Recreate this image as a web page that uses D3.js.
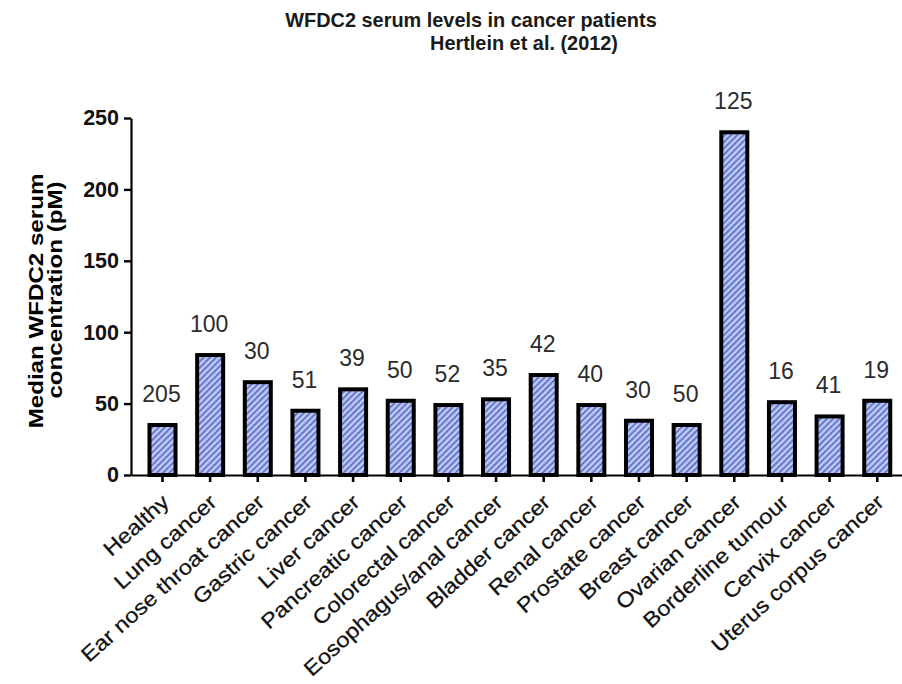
<!DOCTYPE html>
<html>
<head>
<meta charset="utf-8">
<script src="https://cdn.jsdelivr.net/npm/d3@7"></script>
<style>
  html, body { margin: 0; padding: 0; background: #fff; }
  svg { display: block; font-family: "Liberation Sans", Arial, sans-serif; }
</style>
</head>
<body>
<svg id="chart" width="902" height="684"></svg>
<script>
// Median WFDC2 (HE4) serum concentration per patient group, in pM
const categories = [
  "Healthy", "Lung cancer", "Ear nose throat cancer", "Gastric cancer",
  "Liver cancer", "Pancreatic cancer", "Colorectal cancer", "Eosophagus/anal cancer",
  "Bladder cancer", "Renal cancer", "Prostate cancer", "Breast cancer",
  "Ovarian cancer", "Borderline tumour", "Cervix cancer", "Uterus corpus cancer"
];
const medianValues = [35, 84, 65, 45, 60, 52, 49, 53, 70, 49, 38, 35, 240, 51, 41, 52];
// number of patients in each group, printed above the bars
const groupSizes = [205, 100, 30, 51, 39, 50, 52, 35, 42, 40, 30, 50, 125, 16, 41, 19];
const yTicks = [0, 50, 100, 150, 200, 250];
const titleLines = ["WFDC2 serum levels in cancer patients", "Hertlein et al. (2012)"];
const yTitleLines = ["Median WFDC2 serum", "concentration (pM)"];

const svg = d3.select("#chart");
const barStroke = 4;

const y = d3.scaleLinear().domain([0, 250]).range([475, 118]);
const x = d3.scaleBand()
  .domain(categories)
  .range([131, 131 + 47.65 * (16 - 0.454 + 2 * 0.388)])
  .paddingInner(0.454)
  .paddingOuter(0.388);

// diagonal hatch fill for the bars
const defs = svg.append("defs");
const pat = defs.append("pattern")
  .attr("id", "hatch")
  .attr("patternUnits", "userSpaceOnUse")
  .attr("width", 4.4).attr("height", 4.4)
  .attr("patternTransform", "rotate(45)");
pat.append("rect").attr("width", 4.4).attr("height", 4.4).attr("fill", "#b8c5f4");
pat.append("line")
  .attr("x1", 0.8).attr("y1", 0).attr("x2", 0.8).attr("y2", 4.4)
  .attr("stroke", "#3e4fb2").attr("stroke-width", 1.2);

// bars
svg.append("g").selectAll("rect")
  .data(categories)
  .join("rect")
  .attr("x", d => x(d))
  .attr("width", x.bandwidth())
  .attr("y", (d, i) => y(medianValues[i]))
  .attr("height", (d, i) => y(0) - y(medianValues[i]))
  .attr("fill", "url(#hatch)")
  .attr("stroke", "#000")
  .attr("stroke-width", barStroke);

// group size labels
svg.append("g").selectAll("text")
  .data(categories)
  .join("text")
  .attr("x", d => x(d) + x.bandwidth() / 2 - 1)
  .attr("y", (d, i) => y(medianValues[i]) - barStroke / 2 - 21)
  .attr("text-anchor", "middle")
  .attr("font-size", 23)
  .attr("fill", "#2b2b2b")
  .text((d, i) => groupSizes[i]);

// y axis
const yAxis = svg.append("g")
  .attr("transform", "translate(131,0)")
  .call(d3.axisLeft(y).tickValues(yTicks).tickSize(7).tickPadding(5).tickSizeOuter(0));
yAxis.select(".domain").attr("stroke", "#000").attr("stroke-width", 2.2);
yAxis.selectAll(".tick line").attr("stroke", "#000").attr("stroke-width", 2.4);
yAxis.selectAll(".tick text")
  .attr("font-size", 21.5).attr("font-weight", "bold").attr("fill", "#111")
  .attr("font-family", "Liberation Sans, Arial, sans-serif");

// x axis
const xAxis = svg.append("g")
  .attr("transform", "translate(0,475)")
  .call(d3.axisBottom(x).tickSize(7).tickSizeOuter(0));
xAxis.select(".domain").attr("stroke", "#000").attr("stroke-width", 2.2);
xAxis.selectAll(".tick line").attr("stroke", "#000").attr("stroke-width", 2.6);
xAxis.selectAll(".tick text")
  .attr("font-size", 21)
  .attr("fill", "#111")
  .attr("stroke", "#111").attr("stroke-width", 0.25)
  .attr("font-family", "Liberation Sans, Arial, sans-serif")
  .attr("text-anchor", "end")
  .attr("dy", null)
  .attr("y", null)
  .attr("transform", "translate(8,29) rotate(-42) scale(1.12,1)");

// title
svg.append("text")
  .attr("x", 471).attr("y", 26.5)
  .attr("text-anchor", "middle")
  .attr("font-size", 19.9).attr("font-weight", "bold").attr("fill", "#1a1a1a")
  .text(titleLines[0]);
svg.append("text")
  .attr("x", 524).attr("y", 49.5)
  .attr("text-anchor", "middle")
  .attr("font-size", 19.9).attr("font-weight", "bold").attr("fill", "#1a1a1a")
  .text(titleLines[1]);

// y axis title, two lines
svg.append("text")
  .attr("transform", "translate(43,301) rotate(-90) scale(1.15,1)")
  .attr("text-anchor", "middle")
  .attr("font-size", 21).attr("font-weight", "bold").attr("fill", "#000")
  .text(yTitleLines[0]);
svg.append("text")
  .attr("transform", "translate(62,290) rotate(-90) scale(1.15,1)")
  .attr("text-anchor", "middle")
  .attr("font-size", 21).attr("font-weight", "bold").attr("fill", "#000")
  .text(yTitleLines[1]);
</script>
</body>
</html>
